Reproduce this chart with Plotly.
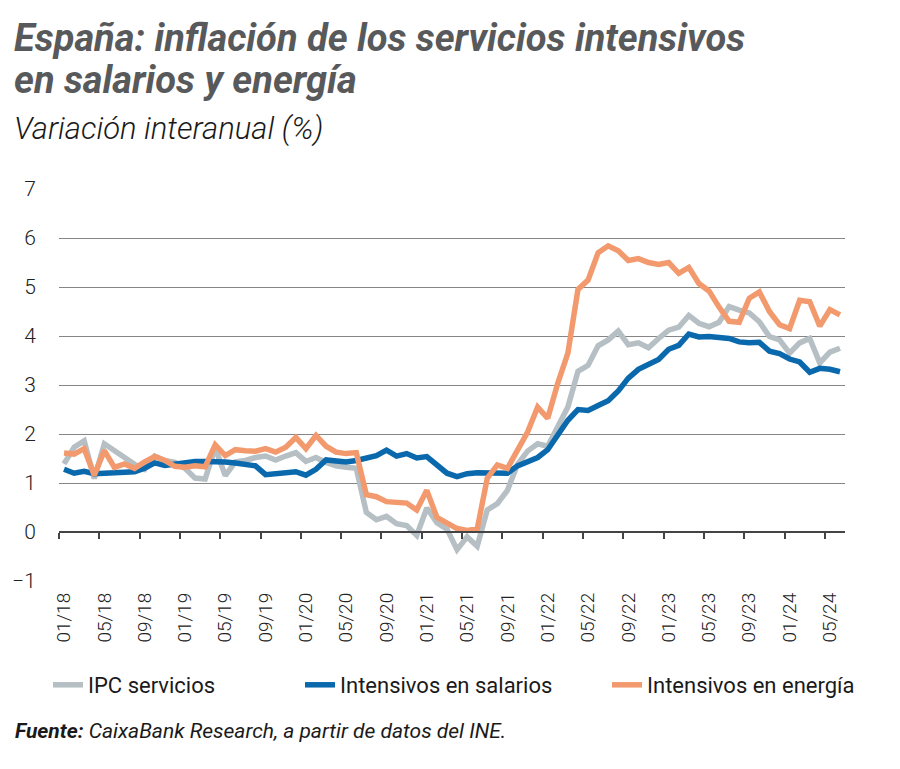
import plotly.graph_objects as go

# ---------------- data (monthly, 01/2018 - 06/2024) ----------------
tick_labels = ["01/18", "05/18", "09/18", "01/19", "05/19", "09/19", "01/20",
               "05/20", "09/20", "01/21", "05/21", "09/21", "01/22", "05/22",
               "09/22", "01/23", "05/23", "09/23", "01/24", "05/24"]

ipc_servicios = [1.39, 1.73, 1.86, 1.09, 1.80, 1.66, 1.53, 1.38, 1.28, 1.55,
                 1.46, 1.42, 1.30, 1.10, 1.08, 1.72, 1.15, 1.43, 1.46, 1.52,
                 1.55, 1.47, 1.55, 1.62, 1.44, 1.52, 1.42, 1.35, 1.32, 1.30,
                 0.40, 0.25, 0.32, 0.17, 0.13, -0.07, 0.49, 0.19, 0.06, -0.36,
                 -0.10, -0.29, 0.45, 0.58, 0.85, 1.38, 1.65, 1.80, 1.75, 2.15,
                 2.55, 3.28, 3.40, 3.80, 3.92, 4.10, 3.82, 3.86, 3.76, 3.95,
                 4.12, 4.18, 4.42, 4.26, 4.19, 4.28, 4.60, 4.53, 4.47, 4.29,
                 3.99, 3.92, 3.65, 3.86, 3.95, 3.45, 3.67, 3.75]

intensivos_salarios = [1.28, 1.20, 1.24, 1.19, 1.20, 1.21, 1.24, 1.23, 1.30, 1.41,
                       1.36, 1.39, 1.43, 1.44, 1.44, 1.44, 1.43, 1.41, 1.38, 1.35,
                       1.17, 1.19, 1.19, 1.23, 1.16, 1.28, 1.47, 1.46, 1.43, 1.46,
                       1.51, 1.56, 1.67, 1.55, 1.60, 1.51, 1.54, 1.38, 1.20, 1.13,
                       1.19, 1.21, 1.21, 1.21, 1.20, 1.35, 1.43, 1.52, 1.68, 1.97,
                       2.28, 2.50, 2.48, 2.58, 2.68, 2.88, 3.14, 3.32, 3.41, 3.52,
                       3.73, 3.81, 4.04, 3.98, 3.99, 3.98, 3.95, 3.88, 3.86, 3.87,
                       3.69, 3.64, 3.53, 3.47, 3.26, 3.34, 3.32, 3.27]

intensivos_energia = [1.61, 1.59, 1.70, 1.16, 1.66, 1.32, 1.39, 1.30, 1.43, 1.54,
                      1.46, 1.34, 1.32, 1.35, 1.33, 1.78, 1.56, 1.68, 1.66, 1.65,
                      1.70, 1.63, 1.73, 1.93, 1.70, 1.97, 1.75, 1.63, 1.60, 1.62,
                      0.76, 0.72, 0.62, 0.61, 0.59, 0.45, 0.85, 0.30, 0.20, 0.07,
                      0.03, 0.06, 1.10, 1.37, 1.30, 1.67, 2.04, 2.55, 2.32, 3.04,
                      3.65, 4.95, 5.14, 5.70, 5.84, 5.74, 5.54, 5.58, 5.50, 5.46,
                      5.50, 5.28, 5.40, 5.07, 4.92, 4.59, 4.30, 4.28, 4.77, 4.90,
                      4.50, 4.23, 4.15, 4.73, 4.70, 4.20, 4.54, 4.43]

series_names = ["IPC servicios", "Intensivos en salarios", "Intensivos en energía"]
series_colors = ["#B5BFC4", "#0A68AD", "#F29A6E"]

# ---------------- layout geometry ----------------
FIG_W, FIG_H = 900, 769
L, R, T, B = 59, 55, 189, 188
PW = FIG_W - L - R
PH = FIG_H - T - B
Y_MIN, Y_MAX = -1, 7


def px_x(px):
    return (px - L) / PW


def px_y(py):
    return (FIG_H - B - py) / PH


n = len(ipc_servicios)
x = list(range(n))
label_pos = list(range(0, n, 4))[:len(tick_labels)]
boundary_pos = [p - 0.5 for p in label_pos]
x_range = [-0.5, n - 0.5]

FONT = "Roboto"

fig = go.Figure()
series = [ipc_servicios, intensivos_salarios, intensivos_energia]
# the top-most series is drawn on the overlaying axis that carries the
# zero line with its boundary tick marks, so that axis gets rendered
axes_for = ["x", "x", "x2"]
legends_for = ["legend", "legend2", "legend3"]
legend_left_px = [48, 300, 607]
for name, vals, col, xa, lg in zip(series_names, series, series_colors,
                                   axes_for, legends_for):
    fig.add_trace(go.Scatter(x=x, y=vals, mode="lines", name=name,
                             xaxis=xa, yaxis="y", legend=lg,
                             line=dict(color=col, width=5.5)))

legend_common = dict(orientation="h", y=px_y(685), xanchor="left",
                     yanchor="middle", bgcolor="rgba(0,0,0,0)",
                     font=dict(size=22, color="#1a1a1a", family=FONT))

fig.update_layout(
    width=FIG_W, height=FIG_H,
    paper_bgcolor="white", plot_bgcolor="white",
    margin=dict(l=L, r=R, t=T, b=B, autoexpand=False),
    font=dict(family=FONT, color="#222222"),
    showlegend=True,
    xaxis=dict(range=x_range, tickmode="array", tickvals=label_pos,
               ticktext=tick_labels, tickangle=-90, ticks="",
               tickfont=dict(size=19, color="#222222", weight=300),
               showgrid=False, zeroline=False, showline=False,
               ticklabelstandoff=7),
    xaxis2=dict(overlaying="x", matches="x", anchor="free",
                position=(0 - Y_MIN) / (Y_MAX - Y_MIN),
                tickmode="array", tickvals=boundary_pos,
                ticks="outside", ticklen=6, tickwidth=1.5, tickcolor="#444444",
                showticklabels=False, showline=True, linecolor="#444444",
                linewidth=1.5, showgrid=False, zeroline=False),
    yaxis=dict(range=[Y_MIN, Y_MAX], dtick=1, tick0=0, showgrid=True,
               gridcolor="#858585", gridwidth=1.3, zeroline=False,
               showline=False, ticks="",
               tickfont=dict(size=21, color="#222222", weight=300),
               ticklabelstandoff=22),
)
for lg, lx in zip(legends_for, legend_left_px):
    fig.update_layout({lg: dict(legend_common, x=px_x(lx))})

annotations = [
    dict(text="<b><i>España: inflación de los servicios intensivos</i></b>",
         x=px_x(12), y=px_y(38), font=dict(size=38, color="#58595B", family=FONT)),
    dict(text="<b><i>en salarios y energía</i></b>",
         x=px_x(12), y=px_y(80), font=dict(size=38, color="#58595B", family=FONT)),
    dict(text="<i>Variación interanual (%)</i>",
         x=px_x(12), y=px_y(128), font=dict(size=31, color="#1a1a1a", family=FONT, weight=300)),
    dict(text="<b><i>Fuente:</i></b><i> CaixaBank Research, a partir de datos del INE.</i>",
         x=px_x(13), y=px_y(731), font=dict(size=21, color="#1a1a1a", family=FONT)),
]
for a in annotations:
    fig.add_annotation(xref="paper", yref="paper", xanchor="left",
                       yanchor="middle", showarrow=False, align="left", **a)

fig.write_html("out.html")
